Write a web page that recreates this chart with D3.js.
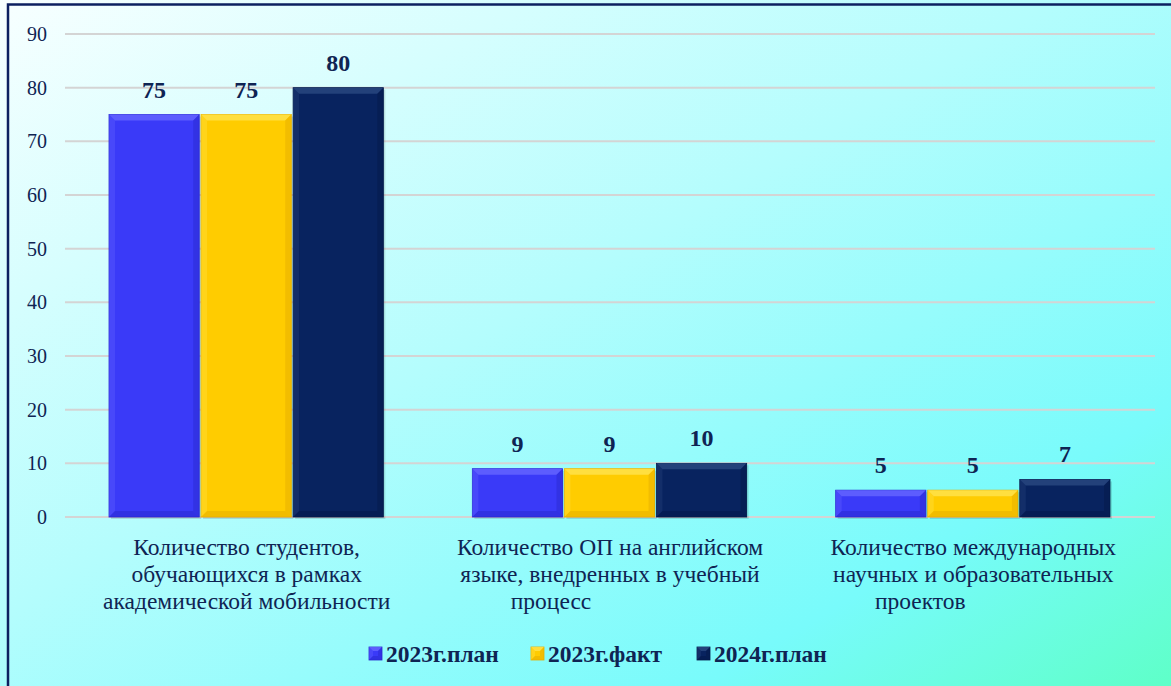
<!DOCTYPE html>
<html>
<head>
<meta charset="utf-8">
<script src="https://cdn.jsdelivr.net/npm/d3@7"></script>
<style>
  html, body { margin: 0; padding: 0; background: #ffffff; }
  svg { display: block; }
  svg text { font-family: "Liberation Serif", "Times New Roman", serif; }
</style>
</head>
<body>
<div id="chart"></div>
<script>
// data
const categories = [
  ["Количество студентов,", "обучающихся в рамках", "академической мобильности"],
  ["Количество ОП на английском", "языке, внедренных в учебный", "процесс"],
  ["Количество международных", "научных и образовательных", "проектов"]
]
const series = ["2023г.план", "2023г.факт", "2024г.план"]
const plan2023 = [75, 9, 5]
const fact2023 = [75, 9, 5]
const plan2024 = [80, 10, 7]
const yTicks = [0, 10, 20, 30, 40, 50, 60, 70, 80, 90]

const colors = ["#3a3af8", "#ffcc00", "#08235f"]
const lightC = ["#6464ff", "#ffe24a", "#28467f"]
const darkC = ["#2a2ad0", "#e6ae00", "#041a4a"]
const txt = "#0f2453"

const W = 1171, H = 686
const margin = {top: 34, left: 65, right: 16, bottom: 169}

const svg = d3.select("#chart").append("svg").attr("width", W).attr("height", H)
const defs = svg.append("defs")
const bg = defs.append("linearGradient").attr("id", "bg")
  .attr("x1", "0").attr("y1", "0").attr("x2", "1").attr("y2", "1")
bg.append("stop").attr("offset", "0%").attr("stop-color", "#f8ffff")
bg.append("stop").attr("offset", "45%").attr("stop-color", "#b4fdfd")
bg.append("stop").attr("offset", "80%").attr("stop-color", "#78fbfb")
bg.append("stop").attr("offset", "100%").attr("stop-color", "#5effc8")

svg.append("rect").attr("x", 0).attr("y", 0).attr("width", W).attr("height", H).attr("fill", "url(#bg)")
// frame
svg.append("path").attr("d", `M8,${H} V4.5 H${W}`).attr("fill", "none").attr("stroke", "#0c2060").attr("stroke-width", 2.5)

const x0 = d3.scaleBand().domain(d3.range(categories.length)).range([margin.left, W - margin.right]).padding(0)
const y = d3.scaleLinear().domain([0, 90]).range([517, margin.top])
const x1 = d3.scaleBand().domain(series).range([44, x0.bandwidth() - 45]).paddingInner(0.02)

// grid
svg.append("g").selectAll("line").data(yTicks).enter().append("line")
  .attr("x1", margin.left).attr("x2", 1155)
  .attr("y1", d => y(d)).attr("y2", d => y(d))
  .attr("stroke", "#d4d4d4").attr("stroke-width", 2)

// y axis labels
const yAxis = d3.axisLeft(y).tickValues(yTicks).tickSize(0).tickPadding(0)
const yg = svg.append("g").attr("transform", "translate(47,0)").call(yAxis)
yg.select(".domain").remove()
yg.attr("font-family", null)
yg.selectAll("text").attr("font-size", 20).attr("fill", txt).attr("dy", "0.33em")

const values = [plan2023, fact2023, plan2024]

// bars with bevel
function bevelBar(g, x, yTop, w, h, i, bev) {
  const b = Math.min(bev, h / 2, w / 2)
  g.append("rect").attr("x", x).attr("y", yTop).attr("width", w).attr("height", h)
    .attr("fill", colors[i]).attr("stroke", darkC[i]).attr("stroke-width", 0.8)
  g.append("path").attr("d", `M${x},${yTop} H${x + w} L${x + w - b},${yTop + b} H${x + b} Z`).attr("fill", lightC[i]).attr("opacity", 0.85)
  g.append("path").attr("d", `M${x},${yTop} L${x + b},${yTop + b} V${yTop + h - b} L${x},${yTop + h} Z`).attr("fill", lightC[i]).attr("opacity", 0.35)
  g.append("path").attr("d", `M${x + w},${yTop} L${x + w - b},${yTop + b} V${yTop + h - b} L${x + w},${yTop + h} Z`).attr("fill", darkC[i]).attr("opacity", 0.5)
  g.append("path").attr("d", `M${x},${yTop + h} L${x + b},${yTop + h - b} H${x + w - b} L${x + w},${yTop + h} Z`).attr("fill", darkC[i]).attr("opacity", 0.55)
}

const groups = svg.append("g").selectAll("g").data(categories).enter().append("g")
  .attr("transform", (d, i) => `translate(${x0(i)},0)`)

groups.each(function(c, ci) {
  const g = d3.select(this)
  series.forEach((s, si) => {
    const v = values[si][ci]
    const bx = x1(s), bw = x1.bandwidth()
    const bar = g.append("g")
    bar.append("rect").attr("x", bx + 2).attr("y", y(v) + 2).attr("width", bw).attr("height", y(0) - y(v))
      .attr("fill", "#000").attr("opacity", 0.12)
    bevelBar(bar, bx, y(v), bw, y(0) - y(v), si, 6)
    g.append("text").attr("x", bx + bw / 2).attr("y", y(v) - 17)
      .attr("text-anchor", "middle").attr("font-weight", "bold")
      .attr("font-size", 24).attr("fill", txt).text(v)
  })
  // category label (last line sits left of centre in the original)
  const lastShift = [0, -59, -53]
  const t = g.append("text").attr("text-anchor", "middle")
    .attr("font-size", 23.5).attr("fill", txt)
  c.forEach((line, li) => {
    t.append("tspan").attr("x", x0.bandwidth() / 2 + (li === c.length - 1 ? lastShift[ci] : 0))
      .attr("y", 555 + li * 27).text(line)
  })
})

// legend
const legendX = [369, 531, 697]
const lg = svg.append("g").selectAll("g").data(series).enter().append("g")
  .attr("transform", (d, i) => `translate(${legendX[i]},647)`)
lg.each(function(s, i) {
  bevelBar(d3.select(this), 0, 0, 13, 13, i, 4)
})
lg.append("text").attr("x", 17).attr("y", 15)
  .attr("font-weight", "bold").attr("font-size", 23.5)
  .attr("fill", txt).text(d => d)
</script>
</body>
</html>
